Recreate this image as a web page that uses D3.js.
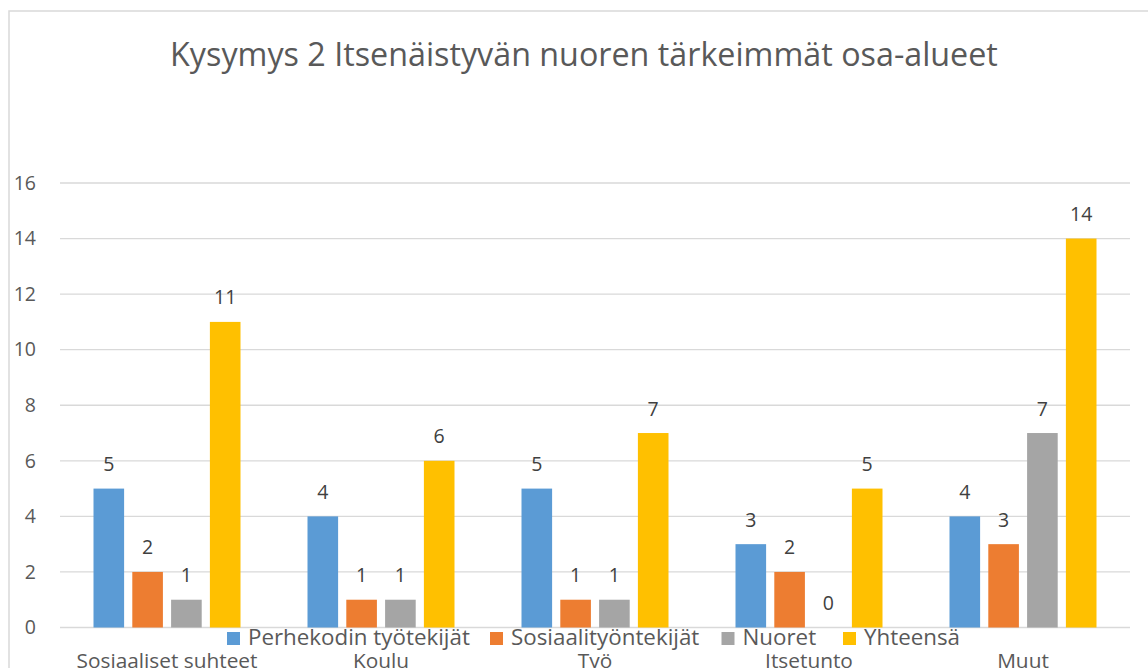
<!DOCTYPE html>
<html><head><meta charset="utf-8">
<script src="https://cdn.jsdelivr.net/npm/d3@7"></script>
<style>body{margin:0;background:#fff}svg{display:block}text{font-family:"Open Sans",sans-serif}</style>
</head><body>
<svg id="c" width="1148" height="668"></svg>
<script>
const title = "Kysymys 2 Itsenäistyvän nuoren tärkeimmät osa-alueet";
const categories = ["Sosiaaliset suhteet","Koulu","Työ","Itsetunto","Muut"];
const seriesNames = ["Perhekodin työtekijät","Sosiaalityöntekijät","Nuoret","Yhteensä"];
const perhekoti = [5,4,5,3,4];
const sosiaalityo = [2,1,1,2,3];
const nuoret = [1,1,1,0,7];
const yhteensa = [11,6,7,5,14];
const yTicks = [0,2,4,6,8,10,12,14,16];
const colors = ["#5B9BD5","#ED7D31","#A5A5A5","#FFC000"];
const seriesValues = [perhekoti, sosiaalityo, nuoret, yhteensa];

const svg = d3.select("#c");
// chart border
svg.append("rect").attr("x",9).attr("y",11).attr("width",1160).attr("height",680)
  .attr("fill","none").attr("stroke","#d9d9d9").attr("stroke-width",1.5);

const x0 = d3.scaleBand().domain(categories).range([60,1130]).padding(0);
const x1 = d3.scaleBand().domain(seriesNames).range([33.5, x0.bandwidth()-33.5]).paddingInner(0.211).paddingOuter(0);
const y = d3.scaleLinear().domain([0,16]).range([627.5,183]);

// gridlines
svg.append("g").selectAll("line").data(yTicks).join("line")
  .attr("x1",60).attr("x2",1130).attr("y1",d=>y(d)).attr("y2",d=>y(d))
  .attr("stroke","#d9d9d9").attr("stroke-width",1.3);

// y axis labels
const yAxis = d3.axisLeft(y).tickValues(yTicks).tickSize(0).tickPadding(0);
const ya = svg.append("g").attr("transform","translate(36,0)").call(yAxis);
ya.select(".domain").remove();
ya.selectAll("text").attr("fill","#595959").style("font-size","19.5px").style("font-family","Open Sans");

// bars
const groups = svg.append("g").selectAll("g").data(categories).join("g")
  .attr("transform",d=>`translate(${x0(d)},0)`);
groups.selectAll("rect").data((c,i)=>seriesNames.map((s,j)=>({s,j,v:seriesValues[j][i]}))).join("rect")
  .attr("x",d=>x1(d.s)).attr("width",x1.bandwidth())
  .attr("y",d=>y(d.v)).attr("height",d=>y(0)-y(d.v))
  .attr("fill",d=>colors[d.j]);
groups.selectAll("text").data((c,i)=>seriesNames.map((s,j)=>({s,j,v:seriesValues[j][i]}))).join("text")
  .attr("x",d=>x1(d.s)+x1.bandwidth()/2).attr("y",d=>y(d.v)-17.5)
  .attr("text-anchor","middle").attr("fill","#404040").style("font-size","19.5px")
  .text(d=>d.v);

// title
const t = svg.append("text").attr("x",584).attr("y",66).attr("text-anchor","middle")
  .attr("fill","#595959").style("font-size","30px").text(title);
function fit(sel, target){ const w = sel.node().getComputedTextLength(); const fs = parseFloat(sel.style("font-size")); sel.style("font-size",(fs*target/w)+"px"); }
fit(t, 828);

// category labels
const cl = svg.append("g").selectAll("text").data(categories).join("text")
  .attr("x",d=>x0(d)+x0.bandwidth()/2).attr("y",668).attr("text-anchor","middle")
  .attr("fill","#595959").style("font-size","20px").text(d=>d);
{ const w = cl.filter((d,i)=>i===0).node().getComputedTextLength(); cl.style("font-size",(20*181/w)+"px"); }

// legend
const legX = [227, 490, 721.5, 843];
const lg = svg.append("g").selectAll("g").data(seriesNames).join("g")
  .attr("transform",(d,i)=>`translate(${legX[i]},0)`);
lg.append("rect").attr("x",0).attr("y",632).attr("width",13).attr("height",13).attr("fill",(d,i)=>colors[i]);
const lt = lg.append("text").attr("x",21).attr("y",645).attr("fill","#595959").style("font-size","20px").text(d=>d);
{ const w = lt.filter((d,i)=>i===0).node().getComputedTextLength(); lt.style("font-size",(20*222/w)+"px"); }
</script>
</body></html>
